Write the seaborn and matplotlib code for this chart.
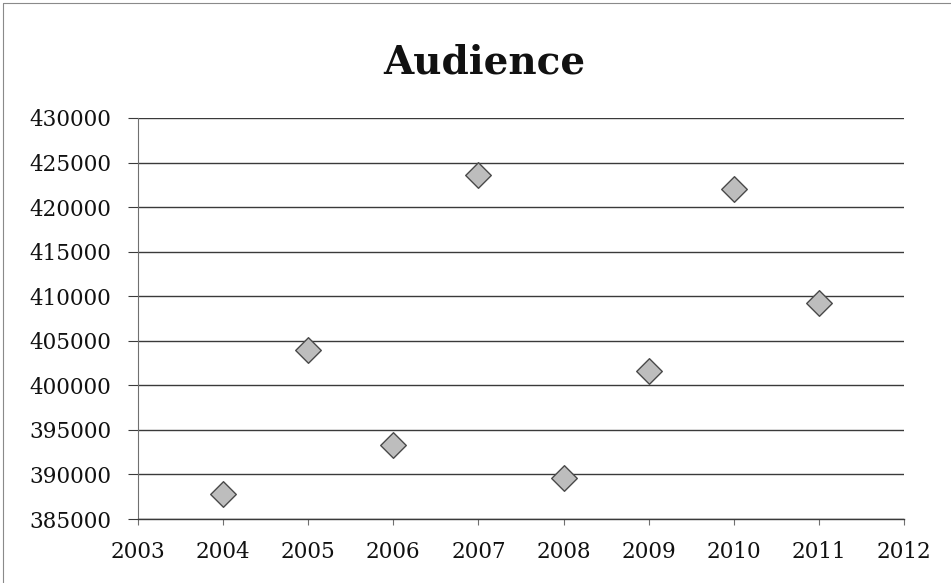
import numpy as np
import pandas as pd
import matplotlib
matplotlib.use("Agg")
import matplotlib.pyplot as plt
import seaborn as sns
from matplotlib.lines import Line2D
from matplotlib.ticker import FuncFormatter

# valores
anos = [2004, 2005, 2006, 2007, 2008, 2009, 2010, 2011]
audiencia = [387800, 404000, 393300, 423600, 389600, 401600, 422000, 409200]
titulo = "Audience"

df = pd.DataFrame({"ano": anos, "audiencia": audiencia})

sns.set_style("white")
plt.rcParams["font.family"] = ["DejaVu Serif"]

fig = plt.figure(figsize=(9.51, 5.83), dpi=100)
ax = fig.add_axes([138/951, 1-519/583, (904-138)/951, (519-118)/583])

sns.scatterplot(data=df, x="ano", y="audiencia", marker="D", s=170,
                color="#bdbdbd", edgecolor="#4a4a4a", linewidth=1.0,
                ax=ax, zorder=3)

ax.set_xlim(2003, 2012)
ax.set_ylim(385000, 430000)
ax.set_xticks(np.arange(2003, 2013, 1))
ax.set_yticks(np.arange(385000, 430001, 5000))
ax.yaxis.set_major_formatter(FuncFormatter(lambda v, p: "%d" % v))
ax.set_xlabel("")
ax.set_ylabel("")

ax.grid(axis="y", color="#3a3a3a", linewidth=1.0)
ax.grid(axis="x", visible=False)
ax.set_axisbelow(True)

for lado in ["top", "right"]:
    ax.spines[lado].set_visible(False)
ax.spines["left"].set_color("#707070")
ax.spines["left"].set_linewidth(0.8)
ax.spines["bottom"].set_color("#3a3a3a")
ax.spines["bottom"].set_linewidth(1.0)

ax.tick_params(axis="y", direction="out", length=7, width=0.8, color="#3a3a3a",
               pad=12, labelsize=15.5, labelcolor="#111111")
ax.tick_params(axis="x", direction="out", length=4, width=0.8, color="#707070",
               pad=12, labelsize=15.5, labelcolor="#111111")
ax.tick_params(left=True, bottom=True)

fig.text(484/951, 1-73/583, titulo, ha="center", va="baseline",
         fontsize=28, fontweight="bold", color="#111111")

# borda do gráfico
fig.add_artist(Line2D([3/951, 3/951], [0, 1-3/583], transform=fig.transFigure,
                      color="#8a8a8a", linewidth=0.8))
fig.add_artist(Line2D([3/951, 1], [1-3/583, 1-3/583], transform=fig.transFigure,
                      color="#8a8a8a", linewidth=0.8))

fig.savefig("out.png", dpi=100)
